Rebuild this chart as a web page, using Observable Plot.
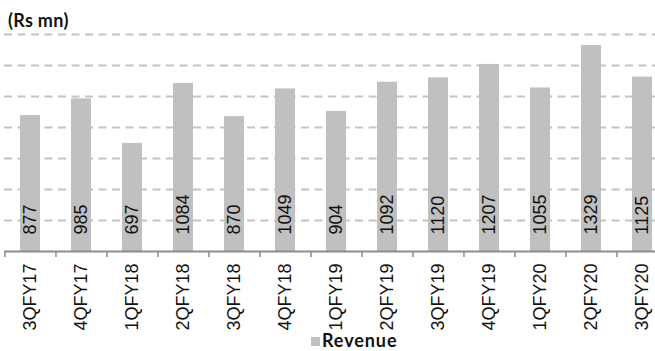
<!DOCTYPE html>
<html>
<head>
<meta charset="utf-8">
<script src="https://cdn.jsdelivr.net/npm/d3@7"></script>
<script src="https://cdn.jsdelivr.net/npm/@observablehq/plot@0.6"></script>
<style>
  html, body { margin: 0; padding: 0; background: #fff; overflow: hidden; width: 655px; height: 351px; }
  #wrap { position: relative; width: 655px; height: 351px; overflow: hidden; }
  #title { position: absolute; left: 8px; top: 9px; font-family: Lato, sans-serif; font-weight: 700; font-size: 18px; letter-spacing: 0.3px; color: #111; }
  #legend { position: absolute; left: 311px; top: 330px; font-family: Lato, sans-serif; font-weight: 700; font-size: 18px; line-height: 20px; color: #111; display: flex; align-items: center; white-space: nowrap; letter-spacing: 0.9px; }
  #legend .sw { width: 9px; height: 9px; background: #c0c0c0; margin-right: 2px; margin-top: 2px; }
  #chart { position: absolute; left: 0; top: 0; width: 668px; }
  #chart svg { max-width: none !important; }
  #chart svg text { font-family: "Liberation Sans", Arial, sans-serif; }
</style>
</head>
<body>
<div id="wrap">
  <div id="chart"></div>
  <div id="title">(Rs mn)</div>
  <div id="legend"><span class="sw"></span><span>Revenue</span></div>
</div>
<script>
const quarters = ["3QFY17","4QFY17","1QFY18","2QFY18","3QFY18","4QFY18","1QFY19","2QFY19","3QFY19","4QFY19","1QFY20","2QFY20","3QFY20"];
const revenue = [877, 985, 697, 1084, 870, 1049, 904, 1092, 1120, 1207, 1055, 1329, 1125];
const gridValues = [200, 400, 600, 800, 1000, 1200, 1400];
const seriesName = "Revenue";

const data = quarters.map((q, i) => ({quarter: q, value: revenue[i]}));
const W = 668;
const step = (W - 4) / quarters.length;

const chart = Plot.plot({
  width: W,
  height: 340,
  marginTop: 34,
  marginBottom: 89,
  marginLeft: 4,
  marginRight: 0,
  style: {background: "transparent", overflow: "visible", maxWidth: "none", fontFamily: "Liberation Sans, Arial, sans-serif"},
  x: {domain: quarters, paddingInner: 0.6, paddingOuter: 0.3, label: null},
  y: {type: "linear", domain: [0, 1400], axis: null},
  marks: [
    Plot.gridY(gridValues, {stroke: "#c4c4c4", strokeOpacity: 1, strokeWidth: 2, strokeDasharray: "8,5.5"}),
    Plot.barY(data, {x: "quarter", y: "value", fill: "#c0c0c0"}),
    Plot.text(data, {x: "quarter", y: () => 0, text: d => String(d.value), rotate: -90, textAnchor: "start", lineAnchor: "middle", dy: -17, fontSize: 18, fill: "#111"}),
    Plot.ruleY([0], {stroke: "#8c8c8c", strokeWidth: 2, strokeOpacity: 1}),
    Plot.ruleX(quarters, {x: d => d, y1: () => 0, y2: () => 0, insetBottom: -6, dx: -step / 2, stroke: "#8c8c8c", strokeWidth: 1.5}),
    Plot.axisX({tickSize: 0, tickPadding: 12, tickRotate: -90, fontSize: 18, fill: "#111", label: null})
  ]
});
document.getElementById("chart").appendChild(chart);
</script>
</body>
</html>
